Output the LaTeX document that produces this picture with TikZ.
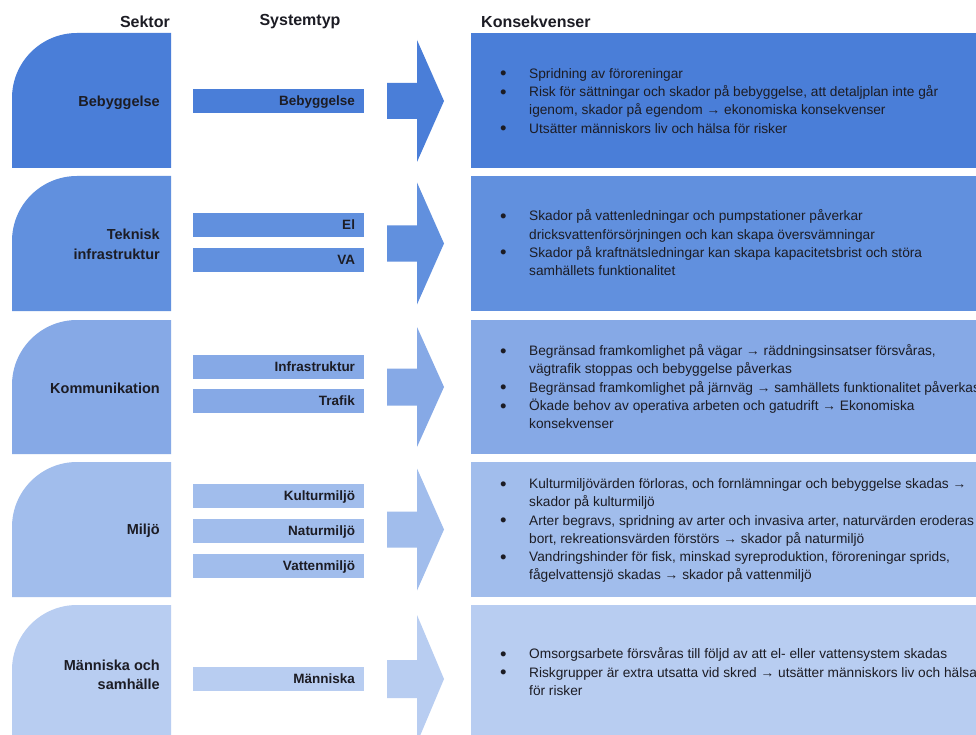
\documentclass[tikz,border=0pt]{standalone}
\usepackage{fontspec}
\setmainfont{Liberation Sans}
\usepackage{array}

\definecolor{ink}{HTML}{1C1C24}
\definecolor{tone1}{HTML}{4A7ED8}
\definecolor{tone2}{HTML}{6190DE}
\definecolor{tone3}{HTML}{86A9E6}
\definecolor{tone4}{HTML}{A1BDEC}
\definecolor{tone5}{HTML}{B8CDF1}

% sector block: square with one large rounded corner (top left)
\newcommand\sektorform[3]{%
  \fill[#3] (171,#1) -- (77,#1) .. controls (41.1,#1) and (12,{#1+29.1}) .. (12,{#1+65})
    -- (12,#2) -- (171,#2) -- cycle;}
% block arrow between system types and consequences
\newcommand\blockpil[4]{%
  \fill[#2] (387,{#1-#4}) -- (417,{#1-#4}) -- (417,{#1-#3}) -- (444,#1)
    -- (417,{#1+#3}) -- (417,{#1+#4}) -- (387,{#1+#4}) -- cycle;}
% list bullet, a little heavier than the text bullet
\newcommand\blt{\raisebox{-1.6pt}{\fontsize{18.5}{18}\selectfont\textbullet}}

\begin{document}
\begin{tikzpicture}[x=1pt,y=-1pt,
  hdr/.style={font=\fontsize{16}{19}\selectfont\bfseries, text=ink, inner sep=0pt},
  sektor/.style={font=\fontsize{14.5}{19.5}\selectfont\bfseries, text=ink, align=right,
    inner sep=0pt, anchor=east},
  sysbar/.style={minimum height=24pt, text width=153pt, inner xsep=9pt, inner ysep=0pt,
    text height=9.7pt, text depth=0pt,
    align=right, font=\fontsize{13.5}{16}\selectfont\bfseries, text=ink},
  konsbox/.style={anchor=north west, minimum width=520pt, inner sep=0pt},
  kons/.style={anchor=west, inner sep=0pt, text=ink,
    font=\fontsize{13.7}{18.3}\selectfont},
]
\useasboundingbox (0,0) rectangle (976,735);
\clip (0,0) rectangle (976,735);
\fill[white] (0,0) rectangle (976,735);

% column headings
\node[hdr, anchor=east] (hSektor) at (170,22) {Sektor};
\node[hdr] (hSystem) at (300,22) {Systemtyp};
\node[hdr, anchor=west] (hKons) at (481,22) {Konsekvenser};

% ---------- Bebyggelse ----------
\sektorform{33}{168}{tone1}
\node[sektor] (s1) at (160,102.5) {Bebyggelse};
\node[sysbar, fill=tone1] (b1) at (278.5,101) {Bebyggelse};
\blockpil{101}{tone1}{61}{18}
\node[konsbox, fill=tone1, minimum height=135pt] (k1) at (471,33) {};
\node[kons] (t1) at (500,102) {\begin{tabular}{@{}p{29pt}@{}l@{}}
\blt & Spridning av föroreningar\\
\blt & Risk för sättningar och skador på bebyggelse, att detaljplan inte går\\
     & igenom, skador på egendom → ekonomiska konsekvenser\\
\blt & Utsätter människors liv och hälsa för risker
\end{tabular}};

% ---------- Teknisk infrastruktur ----------
\sektorform{176}{311}{tone2}
\node[sektor] (s2) at (160,244.5) {Teknisk\\infrastruktur};
\node[sysbar, fill=tone2] (b2a) at (278.5,225) {El};
\node[sysbar, fill=tone2] (b2b) at (278.5,260) {VA};
\blockpil{243.5}{tone2}{61}{18}
\node[konsbox, fill=tone2, minimum height=135pt] (k2) at (471,176) {};
\node[kons] (t2) at (500,244.5) {\begin{tabular}{@{}p{29pt}@{}l@{}}
\blt & Skador på vattenledningar och pumpstationer påverkar\\
     & dricksvattenförsörjningen och kan skapa översvämningar\\
\blt & Skador på kraftnätsledningar kan skapa kapacitetsbrist och störa\\
     & samhällets funktionalitet
\end{tabular}};

% ---------- Kommunikation ----------
\sektorform{320}{454}{tone3}
\node[sektor] (s3) at (160,388.5) {Kommunikation};
\node[sysbar, fill=tone3] (b3a) at (278.5,366.5) {Infrastruktur};
\node[sysbar, fill=tone3] (b3b) at (278.5,400.5) {Trafik};
\blockpil{387}{tone3}{60}{18.5}
\node[konsbox, fill=tone3, minimum height=134pt] (k3) at (471,320) {};
\node[kons] (t3) at (500,388.5) {\begin{tabular}{@{}p{29pt}@{}l@{}}
\blt & Begränsad framkomlighet på vägar → räddningsinsatser försvåras,\\
     & vägtrafik stoppas och bebyggelse påverkas\\
\blt & Begränsad framkomlighet på järnväg → samhällets funktionalitet påverkas\\
\blt & Ökade behov av operativa arbeten och gatudrift → Ekonomiska\\
     & konsekvenser
\end{tabular}};

% ---------- Miljö ----------
\sektorform{462}{597}{tone4}
\node[sektor] (s4) at (160,531) {Miljö};
\node[sysbar, fill=tone4] (b4a) at (278.5,496) {Kulturmiljö};
\node[sysbar, fill=tone4] (b4b) at (278.5,531) {Naturmiljö};
\node[sysbar, fill=tone4] (b4c) at (278.5,566) {Vattenmiljö};
\blockpil{529.5}{tone4}{61}{18}
\node[konsbox, fill=tone4, minimum height=135pt] (k4) at (471,462) {};
\node[kons] (t4) at (500,530.5) {\begin{tabular}{@{}p{29pt}@{}l@{}}
\blt & Kulturmiljövärden förloras, och fornlämningar och bebyggelse skadas →\\
     & skador på kulturmiljö\\
\blt & Arter begravs, spridning av arter och invasiva arter, naturvärden eroderas\\
     & bort, rekreationsvärden förstörs → skador på naturmiljö\\
\blt & Vandringshinder för fisk, minskad syreproduktion, föroreningar sprids,\\
     & fågelvattensjö skadas → skador på vattenmiljö
\end{tabular}};

% ---------- Människa och samhälle ----------
\sektorform{605}{750}{tone5}
\node[sektor] (s5) at (160,675) {Människa och\\samhälle};
\node[sysbar, fill=tone5] (b5) at (278.5,679) {Människa};
\blockpil{679}{tone5}{64}{19}
\node[konsbox, fill=tone5, minimum height=145pt] (k5) at (471,605) {};
\node[kons] (t5) at (500,673.5) {\begin{tabular}{@{}p{29pt}@{}l@{}}
\blt & Omsorgsarbete försvåras till följd av att el- eller vattensystem skadas\\
\blt & Riskgrupper är extra utsatta vid skred → utsätter människors liv och hälsa\\
     & för risker
\end{tabular}};
\end{tikzpicture}
\end{document}
